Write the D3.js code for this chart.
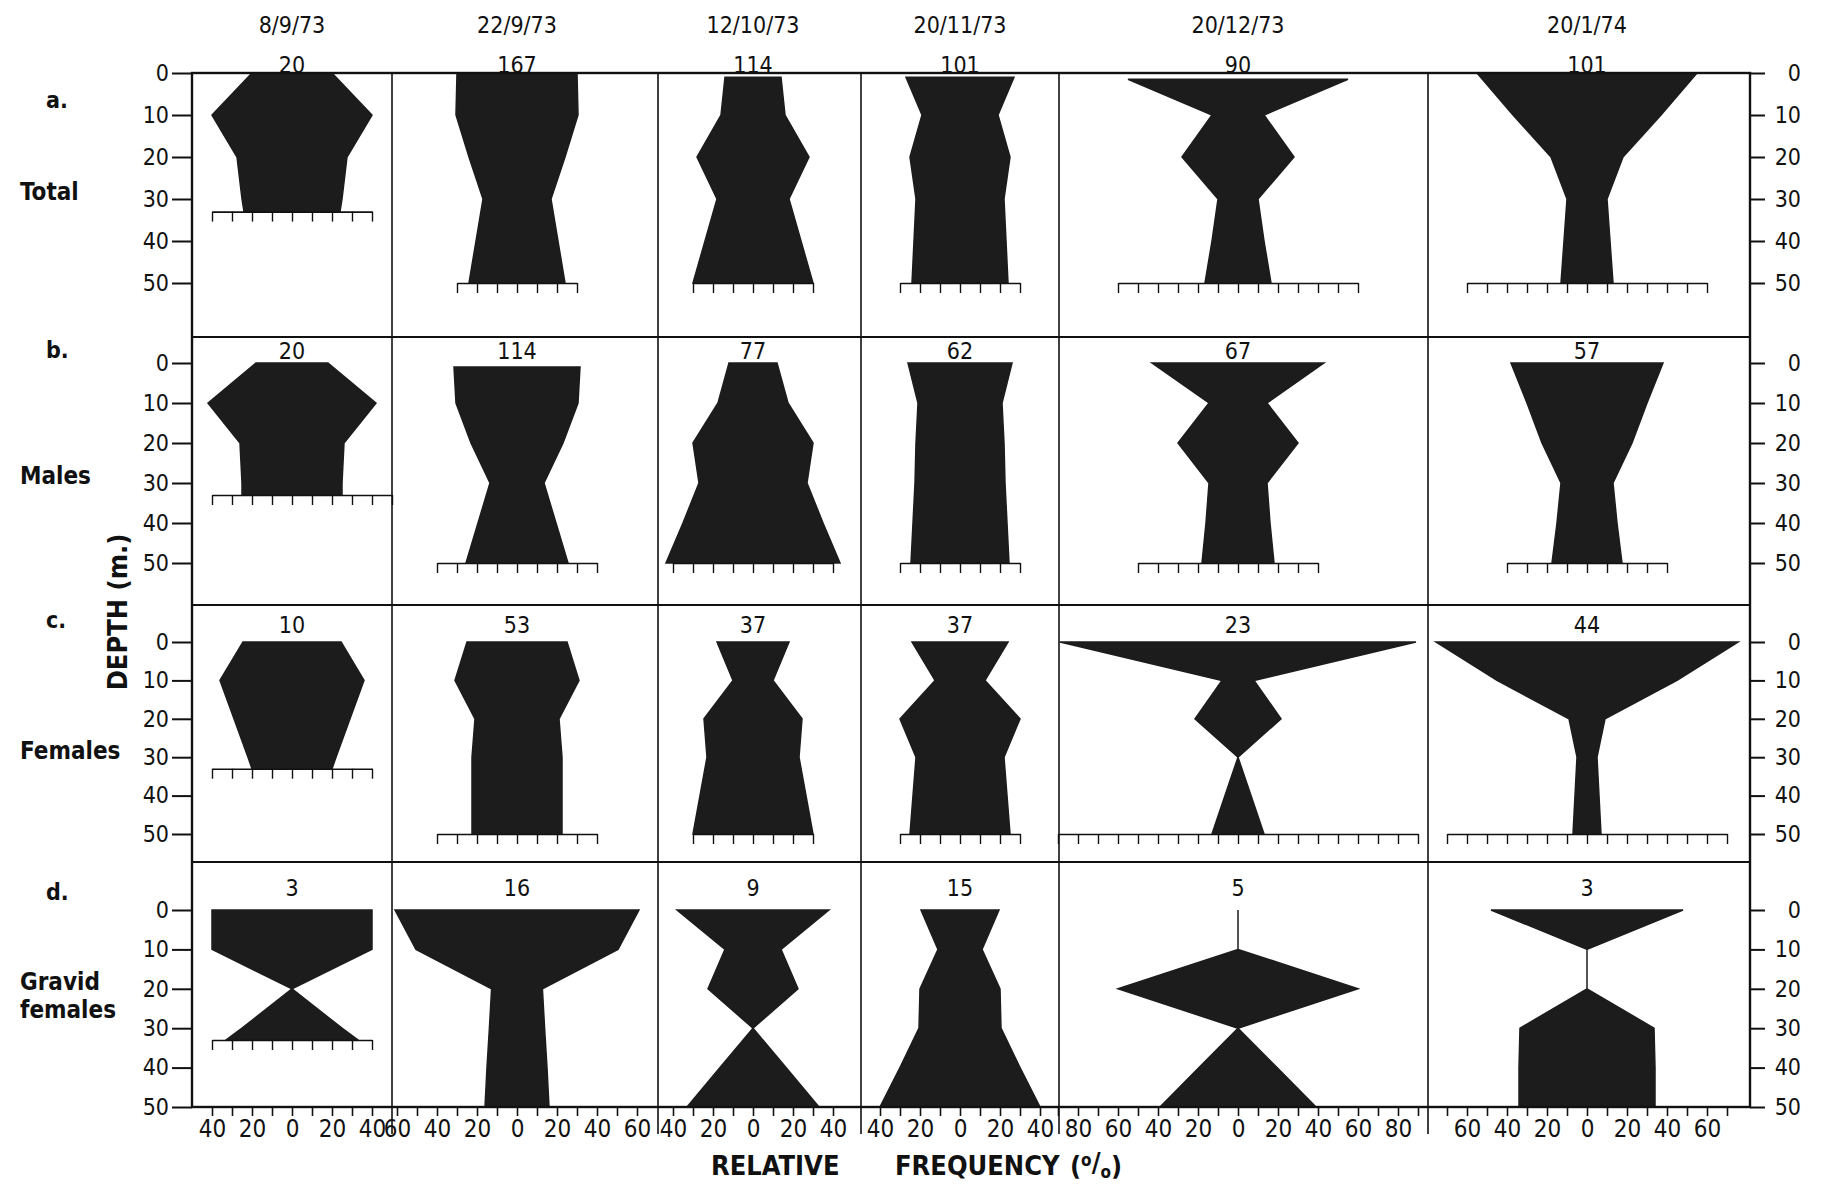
<!DOCTYPE html>
<html><head><meta charset="utf-8">
<script src="https://cdn.jsdelivr.net/npm/d3@7"></script>
<style>
html,body{margin:0;padding:0;background:#fff;}
svg text{font-family:"DejaVu Sans Condensed","DejaVu Sans",sans-serif;font-stretch:condensed;fill:#111;}
</style></head><body>
<svg id="chart" width="1822" height="1185"></svg>
<script>
// ---------------- DATA ----------------
const dates = ["8/9/73","22/9/73","12/10/73","20/11/73","20/12/73","20/1/74"];
const groupLetters = ["a.","b.","c.","d."];
const groupNames = [["Total"],["Males"],["Females"],["Gravid","females"]];
const sampleSizes = [
  [20,167,114,101,90,101],
  [20,114,77,62,67,57],
  [10,53,37,37,23,44],
  [3,16,9,15,5,3]
];
const depthTicks = [0,10,20,30,40,50];

// [depth (m), relative frequency (%)] for each date
const totalProfiles = [
  [[0,20],[10,40],[20,27.5],[30,25],[33,24]],
  [[0,30],[10,30.5],[20,24],[30,17],[40,20.5],[50,24]],
  [[1,14],[10,16],[20,28],[30,18],[40,24],[50,30]],
  [[1,27],[10,19],[20,25],[30,22],[40,23],[50,24]],
  [[1.5,55],[10,13],[20,28],[30,10],[40,13],[50,16.5]],
  [[0,55],[10,37],[20,18],[30,10],[40,11.5],[50,13]]
];
const maleProfiles = [
  [[0,18],[10,42],[20,26],[30,25],[33,25]],
  [[1,31.5],[10,30.5],[20,23],[30,13.5],[40,19.5],[50,25.5]],
  [[0,12],[10,17.5],[20,30],[30,27],[40,35],[50,43.5]],
  [[0,26],[10,21],[20,22],[30,22.5],[40,23.5],[50,24.5]],
  [[0,43],[10,14.5],[20,30],[30,14.5],[40,16],[50,18]],
  [[0,38],[10,30],[20,22.5],[30,13],[40,15],[50,17.5]]
];
const femaleProfiles = [
  [[0,24.5],[10,36],[20,29],[30,22],[33,20]],
  [[0,25],[10,31],[20,21],[30,22.5],[40,22.5],[50,22.5]],
  [[0,18],[10,10],[20,24.5],[30,23],[40,26.5],[50,30]],
  [[0,24],[10,12.5],[20,30],[30,22],[40,23.5],[50,25]],
  [[0,89],[10,8],[20,21.5],[30,0],[40,6.5],[50,13]],
  [[0,75.5],[10,45],[20,9],[30,5],[40,6],[50,7]]
];
const gravidProfiles = [
  [[0,40],[10,40],[20,0],[30,25],[33,33]],
  [[0,61],[10,50.5],[20,12.7],[30,13.8],[40,15],[50,16]],
  [[0,38],[10,14],[20,22.5],[30,0],[40,16.5],[50,33]],
  [[0,19.5],[10,11],[20,20],[30,20.5],[40,30],[50,40]],
  [[0,0],[10,0],[20,60],[30,0],[40,19.5],[50,39]],
  [[0,48],[10,0],[20,0],[30,33.5],[40,34],[50,34]]
];

// scale bars (% range of ticks) drawn under each kite
const totalBars  = [[-40,40],[-30,30],[-30,30],[-30,30],[-60,60],[-60,60]];
const maleBars   = [[-40,50],[-40,40],[-40,40],[-30,30],[-50,40],[-40,40]];
const femaleBars = [[-40,40],[-40,40],[-30,30],[-30,30],[-90,90],[-70,70]];
const gravidBars = [[-40,40],null,null,null,null,null];

// bottom frequency axis
const axisTickRanges = [[-40,40],[-60,60],[-40,40],[-40,40],[-90,90],[-70,70]];
const axisLabelMax = [40,60,40,40,80,60];

// ---------------- LAYOUT ----------------
const svg = d3.select("#chart");
const colEdges = [192, 392, 658, 861, 1059, 1428, 1750];
const colCenters = [292, 517, 753, 960, 1238, 1587];
const rowTop = [73, 337, 605, 862];
const boxBottom = 1107;
const depthRange = [[73,283],[363,563],[642,834],[910,1107]];
const nLabelBase = [73, 359, 633, 896];
const fillColor = "#1c1c1c";
const ink = "#111";

const profiles = [totalProfiles, maleProfiles, femaleProfiles, gravidProfiles];
const bars = [totalBars, maleBars, femaleBars, gravidBars];

const xs = colCenters.map(c => d3.scaleLinear().domain([-100,100]).range([c-200, c+200]));
const ys = depthRange.map(r => d3.scaleLinear().domain([0,50]).range(r));

// kites
profiles.forEach((rowP, r) => {
  rowP.forEach((prof, c) => {
    const area = d3.area()
      .y(d => ys[r](d[0]))
      .x0(d => xs[c](-d[1]))
      .x1(d => xs[c](d[1]));
    svg.append("path").attr("d", area(prof))
      .attr("fill", fillColor).attr("stroke", fillColor)
      .attr("stroke-width", 1.5).attr("stroke-linejoin", "miter");
  });
});

// scale bars
bars.forEach((rowB, r) => rowB.forEach((b, c) => {
  if (!b) return;
  const prof = profiles[r][c];
  const maxD = prof[prof.length-1][0];
  const sub = d3.scaleLinear().domain(b).range([xs[c](b[0]), xs[c](b[1])]);
  const g = svg.append("g").attr("transform", `translate(0,${ys[r](maxD)})`)
    .call(d3.axisBottom(sub).tickValues(d3.range(b[0], b[1]+1, 10))
      .tickFormat("").tickSize(10).tickSizeOuter(0));
  g.select(".domain").attr("stroke", ink).attr("stroke-width", 1.6);
  g.selectAll(".tick line").attr("stroke", ink).attr("stroke-width", 1.4);
}));

// frame
svg.append("rect").attr("x", colEdges[0]).attr("y", rowTop[0])
  .attr("width", colEdges[6]-colEdges[0]).attr("height", boxBottom-rowTop[0])
  .attr("fill", "none").attr("stroke", ink).attr("stroke-width", 2.4);
rowTop.slice(1).forEach(y => svg.append("line")
  .attr("x1", colEdges[0]).attr("x2", colEdges[6]).attr("y1", y).attr("y2", y)
  .attr("stroke", ink).attr("stroke-width", 2.2));
colEdges.slice(1, 6).forEach(x => svg.append("line")
  .attr("x1", x).attr("x2", x).attr("y1", rowTop[0]).attr("y2", 1134)
  .attr("stroke", ink).attr("stroke-width", 1.6));

// depth axes
ys.forEach((y, r) => {
  const gl = svg.append("g").attr("transform", `translate(${colEdges[0]},0)`)
    .call(d3.axisLeft(y).tickValues(depthTicks).tickSize(20).tickPadding(3).tickSizeOuter(0));
  gl.select(".domain").remove();
  gl.selectAll(".tick line").attr("stroke", ink).attr("stroke-width", 2);
  gl.selectAll("text").attr("font-size", 23);
  const gr = svg.append("g").attr("transform", `translate(${colEdges[6]},0)`)
    .call(d3.axisRight(y).tickValues(depthTicks).tickSize(15).tickSizeOuter(0));
  gr.select(".domain").remove();
  gr.selectAll(".tick line").attr("stroke", ink).attr("stroke-width", 2);
  gr.selectAll("text").attr("font-size", 23).attr("text-anchor", "end").attr("x", 51);
});

// bottom frequency axes
colCenters.forEach((cx, c) => {
  const [lo, hi] = axisTickRanges[c];
  const sub = d3.scaleLinear().domain([lo, hi]).range([xs[c](lo), xs[c](hi)]);
  const g = svg.append("g").attr("transform", `translate(0,${boxBottom})`)
    .call(d3.axisBottom(sub).tickValues(d3.range(lo, hi+1, 10)).tickSize(9).tickPadding(4).tickSizeOuter(0)
      .tickFormat(d => (d % 20 === 0 && Math.abs(d) <= axisLabelMax[c]) ? Math.abs(d) : ""));
  g.select(".domain").remove();
  g.selectAll(".tick line").attr("stroke", ink).attr("stroke-width", 1.6);
  g.selectAll("text").attr("font-size", 24);
});

// dates
dates.forEach((d, c) => svg.append("text").attr("x", colCenters[c]).attr("y", 33)
  .attr("text-anchor", "middle").attr("font-size", 23).text(d));

// sample sizes
sampleSizes.forEach((row, r) => row.forEach((n, c) => svg.append("text")
  .attr("x", colCenters[c]).attr("y", nLabelBase[r])
  .attr("text-anchor", "middle").attr("font-size", 23).text(n)));

// row labels
const letterBase = [108, 358, 628, 900];
const nameBase = [[200],[484],[759],[990,1018]];
groupLetters.forEach((l, r) => {
  svg.append("text").attr("x", 46).attr("y", letterBase[r]).attr("font-size", 23)
    .attr("font-weight", "bold").text(l);
  groupNames[r].forEach((nm, i) => svg.append("text").attr("x", 20).attr("y", nameBase[r][i])
    .attr("font-size", 24).attr("font-weight", "bold").text(nm));
});

// axis titles
svg.append("text").attr("transform", "translate(127,612) rotate(-90)")
  .attr("text-anchor", "middle").attr("font-size", 27).attr("font-weight", "bold").text("DEPTH (m.)");
svg.append("text").attr("x", 711).attr("y", 1175).attr("font-size", 27).attr("font-weight", "bold").text("RELATIVE");
svg.append("text").attr("x", 895).attr("y", 1175).attr("font-size", 27).attr("font-weight", "bold").text("FREQUENCY");
const pct = svg.append("text").attr("x", 1070).attr("y", 1175).attr("font-size", 27).attr("font-weight", "bold");
pct.append("tspan").text("(");
pct.append("tspan").attr("font-size", 17).attr("dy", -9).text("o");
pct.append("tspan").attr("dy", 6).text("/");
pct.append("tspan").attr("font-size", 17).attr("dy", 6).text("o");
pct.append("tspan").attr("dy", -3).text(")");
</script>
</body></html>
